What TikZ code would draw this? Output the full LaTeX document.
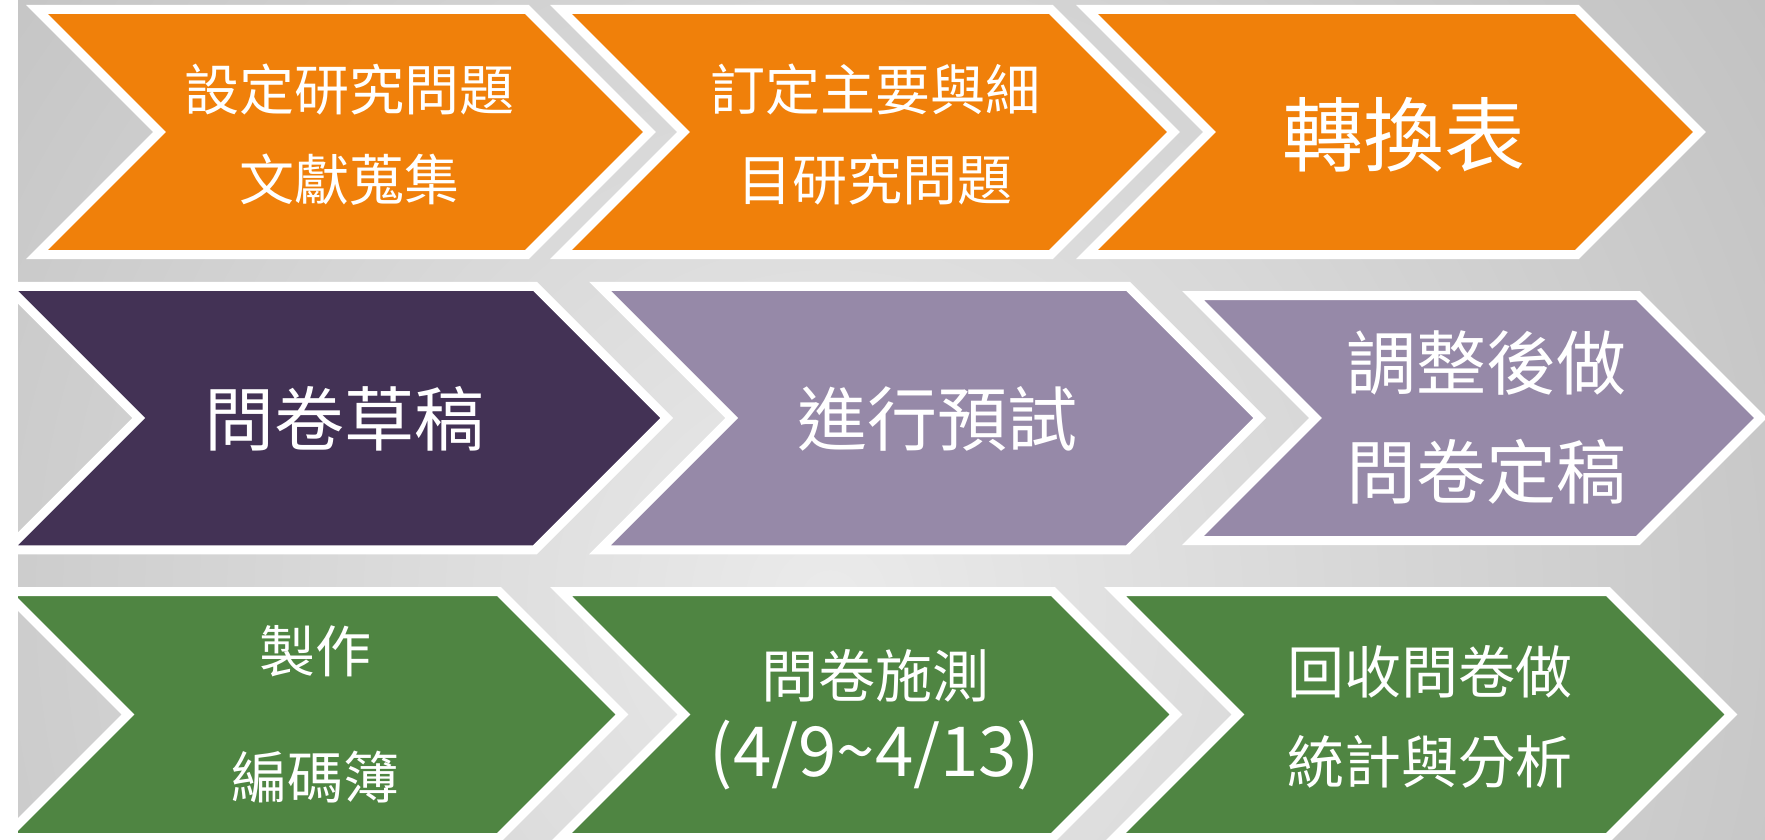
\documentclass[tikz,border=0pt]{standalone}
\usepackage{fontspec}
\newfontfamily\cjk{Noto Sans CJK TC}
\definecolor{stepOrange}{RGB}{240,128,10}
\definecolor{stepPlum}{RGB}{67,50,85}
\definecolor{stepLilac}{RGB}{150,137,168}
\definecolor{stepGreen}{RGB}{79,133,66}
\newcommand{\chevron}[5]{\filldraw[chev, fill=#1] (#2,{#3-#5}) -- ({#2+#4},{#3-#5}) -- ({#2+#4+#5},#3) -- ({#2+#4},{#3+#5}) -- (#2,{#3+#5}) -- ({#2+#5},#3) -- cycle;}

\begin{document}
\begin{tikzpicture}[x=1pt, y=-1pt,
  chev/.style={draw=white, line width=9pt, line join=miter},
  lbl/.style={text=white, align=center, inner sep=0pt}]
\useasboundingbox (0,0) rectangle (1765,840);
\begin{scope}
\clip (18,0) rectangle (1765,840);
\shade[inner color=black!8, outer color=black!36] (830,600) circle (1950);
\end{scope}

\chevron{stepOrange}{37}{132}{490}{122.5}
\chevron{stepOrange}{561}{132}{490}{122.5}
\chevron{stepOrange}{1087}{132}{490}{122.5}
\chevron{stepPlum}{7}{418}{528}{131.75}
\chevron{stepLilac}{600}{418}{528}{131.75}
\chevron{stepLilac}{1193}{418}{445}{122.5}
\chevron{stepGreen}{5}{714.5}{494}{123}
\chevron{stepGreen}{561}{714.5}{492}{123}
\chevron{stepGreen}{1115}{714.5}{493}{123}

\node[lbl, font=\cjk\fontsize{55}{90}\selectfont] (setq) at (349,135) {設定研究問題\\文獻蒐集};
\node[lbl, font=\cjk\fontsize{55}{90}\selectfont] (subq) at (875,135) {訂定主要與細\\目研究問題};
\node[lbl, font=\cjk\fontsize{81}{90}\selectfont] (conv) at (1404,135) {轉換表};
\node[lbl, font=\cjk\fontsize{70}{90}\selectfont] (draft) at (344,419) {問卷草稿};
\node[lbl, font=\cjk\fontsize{70}{90}\selectfont] (pretest) at (937,419) {進行預試};
\node[lbl, font=\cjk\fontsize{70}{109}\selectfont] (final) at (1486,418) {調整後做\\問卷定稿};
\node[lbl, font=\cjk\fontsize{56}{126}\selectfont] (codebook) at (315,714) {製作\\編碼簿};
\node[lbl, font=\cjk\fontsize{57}{79}\selectfont] (survey) at (875,720) {問卷施測\\{\fontsize{69}{79}\selectfont(4/9\textasciitilde4/13)}};
\node[lbl, font=\cjk\fontsize{57}{90}\selectfont] (analysis) at (1430,717) {回收問卷做\\統計與分析};

\fill[white] (0,0) rectangle (18,840);
\end{tikzpicture}
\end{document}
